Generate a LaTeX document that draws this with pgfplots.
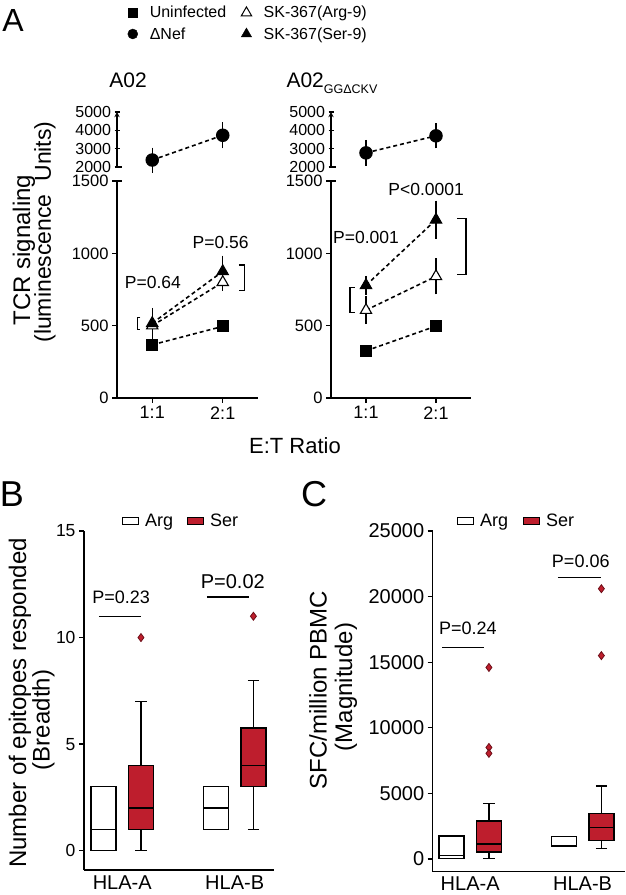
\documentclass[border=0pt]{standalone}
\usepackage{pgfplots}
\pgfplotsset{compat=1.18}
\usepgfplotslibrary{statistics}
\usepackage{fontspec}
\setmainfont{Liberation Sans}
\definecolor{serred}{RGB}{190,30,45}
\definecolor{outred}{RGB}{110,15,25}
\newcommand{\fs}[1]{\fontsize{#1}{#1}\selectfont}

\pgfplotsset{
  base/.style={
    scale only axis, anchor=south west, clip=false,
    axis lines=left, axis line style={-, line width=1.3pt},
    tick align=outside, major tick length=5pt,
    every tick/.style={black, line width=1.3pt},
    /pgf/number format/assume math mode=true,
    /pgf/number format/1000 sep={},
    scaled y ticks=false,
  },
  dline/.style={black, line width=1.6pt, dash pattern=on 4pt off 3pt,
    mark options={solid, line width=1.1pt}},
  opentri/.style={mark=triangle*, mark size=6.5pt, mark options={solid, fill=white, draw=black, line width=1.1pt}},
  ebar/.style={draw=none, mark=none, forget plot,
    error bars/y dir=both, error bars/y explicit,
    error bars/error bar style={draw=black, solid, line width=1.3pt},
    error bars/error mark options={draw=black, solid, mark size=5pt, line width=1.3pt}},
  bx/.style={draw=black, line width=1.3pt, solid, mark=none,
    boxplot/draw direction=y,
    boxplot/box extend=0.667, boxplot/whisker extend=0.3},
  outl/.style={only marks, mark=diamond*, mark size=4pt,
    mark options={fill=serred, draw=outred, line width=0.8pt}},
}

\begin{document}
\begin{tikzpicture}

% panel letters
\node[font=\fs{32}] at (13pt,875pt) {A};
\node[font=\fs{36}] at (12pt,401pt) {B};
\node[font=\fs{36}] at (314pt,401pt) {C};

% panel A texts
\node[rotate=90, font=\fs{24}] at (24pt,645pt) {TCR signaling};
\node[rotate=90, font=\fs{23}] at (45pt,663pt) {(luminescence\ \ Units)};
\node[font=\fs{22}] at (295pt,449pt) {E:T Ratio};
\node[font=\fs{21}, anchor=base] at (128pt,807pt) {A02};
\node[font=\fs{21}, anchor=base west] at (283pt,807pt) {A02\raisebox{-6pt}{\fs{12.5}GGΔCKV}};

% panel B / C y labels
\node[rotate=90, font=\fs{24}] at (20pt,192pt) {Number of epitopes responded};
\node[rotate=90, font=\fs{24}] at (43.5pt,175pt) {(Breadth)};
\node[rotate=90, font=\fs{24}] at (318pt,205pt) {SFC/million PBMC};
\node[rotate=90, font=\fs{24}] at (346pt,208pt) {(Magnitude)};

% ===== A left upper =====
\begin{axis}[base, at={(117pt,728pt)}, width=141pt, height=55pt,
  xmin=0.5, xmax=2.5, ymin=2000, ymax=5000,
  axis x line=none, axis y line=left,
  ytick={2000,3000,4000,5000}, yticklabel style={font=\fs{16}, inner ysep=0pt}]
\addplot[ebar] coordinates {(1,2380) +- (0,410) (2,3730) +- (0,436)};
\addplot[dline, mark=*, mark size=6.2pt] coordinates {(1,2380) (2,3730)};
\draw[line width=1.3pt] (rel axis cs:0,0) -- ++(5pt,0pt);
\end{axis}

% ===== A left lower =====
\begin{axis}[base, at={(117pt,497pt)}, width=141pt, height=217pt,
  xmin=0.5, xmax=2.5, ymin=0, ymax=1500,
  xtick={1,2}, xticklabels={1:1,2:1}, ytick={0,500,1000,1500},
  xticklabel style={font=\fs{18}}, yticklabel style={font=\fs{16.5}, inner ysep=0pt},
  legend columns=2,
  legend cell align=left,
  legend style={draw=none, fill=none, inner sep=0pt, at={(0.075,1.815)}, anchor=north west,
    font=\fs{16}, row sep=4pt, column sep=10pt,
    /tikz/every even column/.append style={column sep=13pt}},
  legend image code/.code={\draw[#1] plot coordinates {(0pt,0pt)};}]
\addlegendimage{only marks, mark=square*, mark size=4.5pt, black}
\addlegendentry{Uninfected}
\addlegendimage{only marks, mark=triangle*, mark size=6pt, black, mark options={fill=white, draw=black, line width=1pt}}
\addlegendentry{SK-367(Arg-9)}
\addlegendimage{only marks, mark=*, mark size=5pt, black}
\addlegendentry{ΔNef}
\addlegendimage{only marks, mark=triangle*, mark size=6pt, black}
\addlegendentry{SK-367(Ser-9)}
\addplot[ebar] coordinates {(1,500) +- (0,40) (2,800) +- (0,25)};
\addplot[ebar] coordinates {(1,517) +- (0,72) (2,875) +- (0,75)};
\addplot[dline, mark=square*, mark size=5.5pt, forget plot] coordinates {(1,368) (2,495)};
\addplot[dline, opentri, forget plot] coordinates {(1,500) (2,800)};
\addplot[dline, mark=triangle*, mark size=6.5pt, forget plot] coordinates {(1,517) (2,875)};
\node[font=\fs{17.5}] at (axis cs:1.01,800) {P=0.64};
\node[font=\fs{17.5}] at (axis cs:1.97,1076) {P=0.56};
\draw[line width=1.3pt] (axis cs:0.83,556) -- (axis cs:0.79,556) -- (axis cs:0.79,474) -- (axis cs:0.83,474);
\draw[line width=1.3pt] (axis cs:2.23,920) -- (axis cs:2.31,920) -- (axis cs:2.31,745) -- (axis cs:2.23,745);
\draw[line width=1.3pt] (rel axis cs:0,1) -- ++(5pt,0pt);
\end{axis}

% ===== A right upper =====
\begin{axis}[base, at={(331pt,728pt)}, width=140pt, height=55pt,
  xmin=0.5, xmax=2.5, ymin=2000, ymax=5000,
  axis x line=none, axis y line=left,
  ytick={2000,3000,4000,5000}, yticklabel style={font=\fs{16}, inner ysep=0pt}]
\addplot[ebar] coordinates {(1,2770) +- (0,430) (2,3700) +- (0,415)};
\addplot[dline, mark=*, mark size=6.2pt] coordinates {(1,2770) (2,3700)};
\draw[line width=1.3pt] (rel axis cs:0,0) -- ++(5pt,0pt);
\end{axis}

% ===== A right lower =====
\begin{axis}[base, at={(331pt,497pt)}, width=140pt, height=217pt,
  xmin=0.5, xmax=2.5, ymin=0, ymax=1500,
  xtick={1,2}, xticklabels={1:1,2:1}, ytick={0,500,1000,1500},
  xticklabel style={font=\fs{18}}, yticklabel style={font=\fs{16.5}, inner ysep=0pt}]
\addplot[ebar] coordinates {(1,607) +- (0,62) (2,841) +- (0,90)};
\addplot[ebar] coordinates {(1,779) +- (0,30) (2,1232) +- (0,98)};
\addplot[dline, mark=square*, mark size=5.5pt] coordinates {(1,326) (2,497)};
\addplot[dline, opentri] coordinates {(1,607) (2,841)};
\addplot[dline, mark=triangle*, mark size=6.5pt] coordinates {(1,779) (2,1232)};
\node[font=\fs{17.5}] at (axis cs:1.0,1107) {P=0.001};
\node[font=\fs{17.5}] at (axis cs:1.86,1438) {P<0.0001};
\draw[line width=1.3pt] (axis cs:0.84,765) -- (axis cs:0.77,765) -- (axis cs:0.77,593) -- (axis cs:0.84,593);
\draw[line width=1.3pt] (axis cs:2.30,1241) -- (axis cs:2.43,1241) -- (axis cs:2.43,855) -- (axis cs:2.30,855);
\draw[line width=1.3pt] (rel axis cs:0,1) -- ++(5pt,0pt);
\end{axis}

% ===== B =====
\begin{axis}[base, at={(84pt,25pt)}, width=190pt, height=339pt,
  xmin=0.48, xmax=5.55, ymin=-0.906, ymax=15,
  xtick={1.5,4.5}, xticklabels={HLA-A,HLA-B}, xtick style={draw=none},
  ytick={0,5,10,15},
  xticklabel style={font=\fs{20}, yshift=3pt}, yticklabel style={font=\fs{17.5}},
  legend columns=2,
  legend style={draw=none, fill=none, inner sep=0pt, at={(0.2,1.03)}, anchor=west,
    font=\fs{18}, column sep=4pt,
    /tikz/every even column/.append style={column sep=12pt}},
  legend image code/.code={\draw[#1] (0pt,-3.5pt) rectangle (16pt,3.5pt);}]
\addlegendimage{draw=black, fill=white, line width=1pt}
\addlegendentry{Arg}
\addlegendimage{draw=black, fill=serred, line width=1pt}
\addlegendentry{Ser}
\addplot[bx, fill=white, forget plot, boxplot prepared={draw position=1, lower whisker=0, lower quartile=0, median=1, upper quartile=3, upper whisker=3}] coordinates {};
\addplot[bx, fill=serred, forget plot, boxplot prepared={draw position=2, lower whisker=0, lower quartile=1, median=2, upper quartile=4, upper whisker=7}] coordinates {};
\addplot[bx, fill=white, forget plot, boxplot prepared={draw position=4, lower whisker=1, lower quartile=1, median=2, upper quartile=3, upper whisker=3}] coordinates {};
\addplot[bx, fill=serred, forget plot, boxplot prepared={draw position=5, lower whisker=1, lower quartile=3, median=4, upper quartile=5.75, upper whisker=8}] coordinates {};
\addplot[outl, forget plot] coordinates {(2,10) (5,11)};
\draw[line width=1.3pt] (axis cs:0.88,11) -- (axis cs:2.0,11);
\node[font=\fs{18}] at (axis cs:1.47,11.89) {P=0.23};
\draw[line width=1.3pt] (axis cs:3.76,11.9) -- (axis cs:4.88,11.9);
\node[font=\fs{20}] at (axis cs:4.45,12.63) {P=0.02};
\end{axis}

% ===== C =====
\begin{axis}[base, at={(432.7pt,23.3pt)}, width=192.3pt, height=340.7pt,
  xmin=0.5, xmax=5.63, ymin=-968, ymax=25000,
  xtick={1.5,4.5}, xticklabels={HLA-A,HLA-B}, xtick style={draw=none},
  ytick={0,5000,10000,15000,20000,25000},
  xticklabel style={font=\fs{20}, yshift=3pt}, yticklabel style={font=\fs{20}},
  legend columns=2,
  legend style={draw=none, fill=none, inner sep=0pt, at={(0.126,1.029)}, anchor=west,
    font=\fs{18}, column sep=4pt,
    /tikz/every even column/.append style={column sep=13pt}},
  legend image code/.code={\draw[#1] (0pt,-3.5pt) rectangle (16pt,3.5pt);}]
\addlegendimage{draw=black, fill=white, line width=1pt}
\addlegendentry{Arg}
\addlegendimage{draw=black, fill=serred, line width=1pt}
\addlegendentry{Ser}
\addplot[bx, fill=white, forget plot, boxplot prepared={draw position=1, lower whisker=50, lower quartile=50, median=280, upper quartile=1750, upper whisker=1750}] coordinates {};
\addplot[bx, fill=serred, forget plot, boxplot prepared={draw position=2, lower whisker=50, lower quartile=530, median=1140, upper quartile=2900, upper whisker=4240}] coordinates {};
\addplot[bx, fill=white, forget plot, boxplot prepared={draw position=4, lower whisker=940, lower quartile=940, median=1020, upper quartile=1700, upper whisker=1700}] coordinates {};
\addplot[bx, fill=serred, forget plot, boxplot prepared={draw position=5, lower whisker=810, lower quartile=1400, median=2400, upper quartile=3480, upper whisker=5560}] coordinates {};
\addplot[outl, forget plot] coordinates {(2,14600) (2,8500) (2,8050) (5,20600) (5,15500)};
\draw[line width=1.3pt] (axis cs:0.75,16100) -- (axis cs:1.87,16100);
\node[font=\fs{18}] at (axis cs:1.44,17560) {P=0.24};
\draw[line width=1.3pt] (axis cs:3.84,21460) -- (axis cs:4.99,21460);
\node[font=\fs{18}] at (axis cs:4.45,22660) {P=0.06};
\end{axis}

\pgfresetboundingbox
\path[use as bounding box] (0pt,0pt) rectangle (625pt,895pt);
\end{tikzpicture}
\end{document}
